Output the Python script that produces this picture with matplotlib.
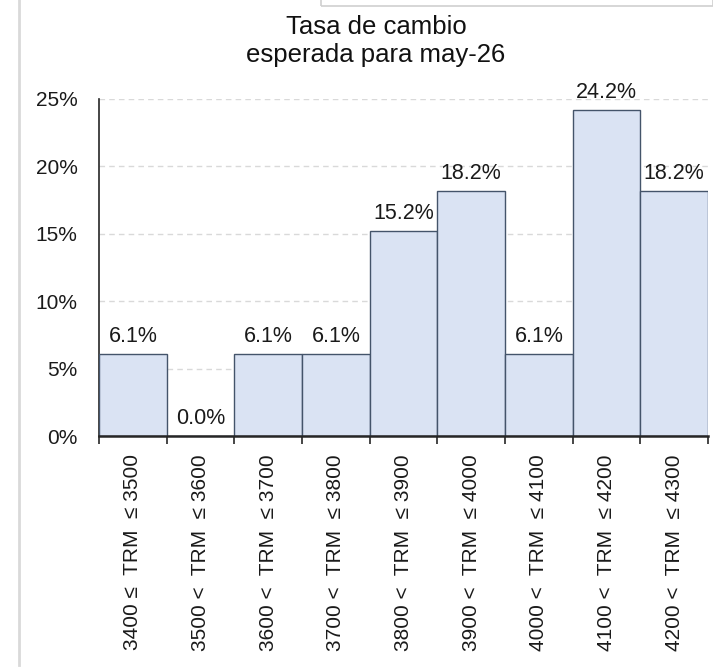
import matplotlib
matplotlib.use("Agg")
import matplotlib.pyplot as plt
from matplotlib.lines import Line2D
from matplotlib.patches import Rectangle

plt.rcParams['font.family'] = ['Liberation Sans', 'DejaVu Sans']

lower = ["3400", "3500", "3600", "3700", "3800", "3900", "4000", "4100", "4200"]
upper = ["3500", "3600", "3700", "3800", "3900", "4000", "4100", "4200", "4300"]
values = [6.1, 0.0, 6.1, 6.1, 15.2, 18.2, 6.1, 24.2, 18.2]
yticks = [0, 5, 10, 15, 20, 25]
title = "Tasa de cambio\nesperada para may-26"

labels = []
for i, (lo, up) in enumerate(zip(lower, upper)):
    op = "≤" if i == 0 else "<"
    labels.append(f"{lo} {op}  TRM  ≤ {up}")

W, H = 713, 667
fig = plt.figure(figsize=(W / 100, H / 100), dpi=100)
ax = fig.add_axes([99 / W, 1 - 436 / H, (708 - 99) / W, (436 - 99) / H])

x = list(range(len(values)))
ax.bar(x, values, width=1.0, color="#dae3f3", edgecolor="#44546a", linewidth=1.0, zorder=3)
for xi, v in zip(x, values):
    ax.annotate(f"{v:.1f}%", (xi, v), xytext=(0, 5), textcoords="offset points",
                ha="center", va="bottom", fontsize=15.5, color="#1a1a1a", zorder=4)

ax.set_xlim(-0.5, len(values) - 0.5)
ax.set_ylim(0, 25)
ax.set_yticks(yticks)
ax.set_yticklabels([f"{t}%" for t in yticks], fontsize=15, color="#1a1a1a")
ax.tick_params(axis="y", length=0, pad=15.5)

ax.set_xticks(x)
ax.set_xticklabels(labels, rotation=90, fontsize=15, color="#1a1a1a")
ax.tick_params(axis="x", which="major", length=0, pad=13)
ax.set_xticks([i - 0.5 for i in range(len(values) + 1)], minor=True)
ax.tick_params(axis="x", which="minor", length=6, width=1.2, direction="out", color="#262626")

ax.yaxis.grid(True, color="#d9d9d9", linestyle=(0, (4, 3)), linewidth=1.0, zorder=0)
ax.set_axisbelow(True)
for s in ["top", "right"]:
    ax.spines[s].set_visible(False)
ax.spines["left"].set_color("#262626")
ax.spines["left"].set_linewidth(1.2)
ax.spines["bottom"].set_color("#262626")
ax.spines["bottom"].set_linewidth(1.8)
ax.spines["bottom"].set_zorder(5)

fig.text(376 / W, 1 - 41 / H, title, ha="center", va="center",
         fontsize=18.5, color="#111111", linespacing=1.22)

fig.add_artist(Line2D([19 / W, 19 / W], [0.003, 1], color="#d9d9d9", linewidth=2))
fig.add_artist(Rectangle((321 / W, 1 - 6 / H), (W - 321) / W, 0.02, fill=False,
                         edgecolor="#d0d0d0", linewidth=1.2))

fig.savefig("out.png", dpi=100)
